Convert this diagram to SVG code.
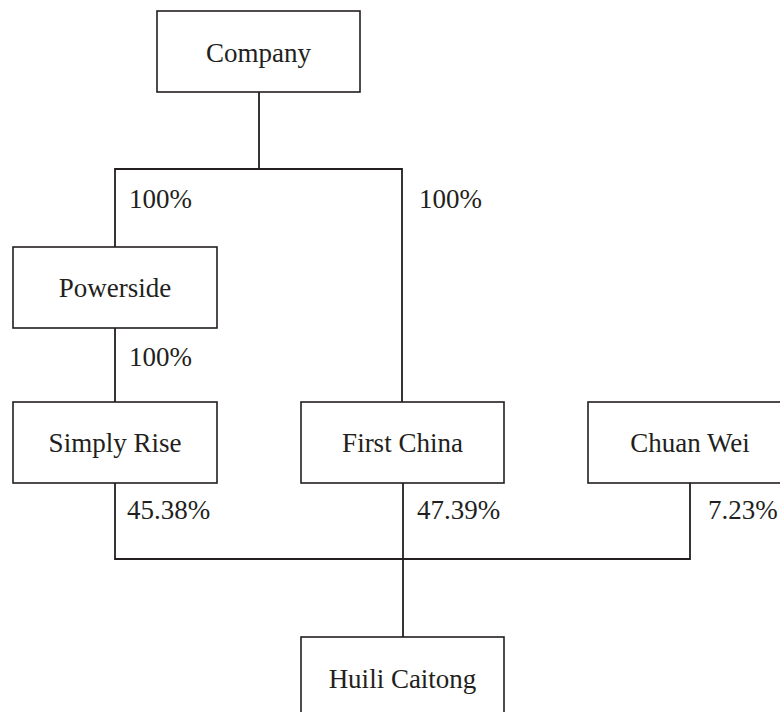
<svg xmlns="http://www.w3.org/2000/svg" width="780" height="712" viewBox="0 0 780 712">
<style>
.box{fill:#fff;stroke:#231f20;stroke-width:1.6}
.ln{fill:none;stroke:#231f20;stroke-width:1.8}
text{font-family:"Liberation Serif","Times New Roman",serif;font-size:27px;fill:#231f20}
.c{text-anchor:middle}
</style>
<rect width="780" height="712" fill="#fff"/>
<g id="connectors">
<path class="ln" d="M259 92V169M115 247V169H402V402M115 328V402M115 483V559H690V483M403 483V637"/>
</g>
<g id="labels">
<text x="129" y="208">100%</text>
<text x="419" y="208">100%</text>
<text x="129" y="366">100%</text>
<text x="127" y="519">45.38%</text>
<text x="417" y="519">47.39%</text>
<text x="708" y="519">7.23%</text>
</g>
<g id="company"><rect class="box" x="157" y="11" width="203" height="81"/><text class="c" x="258.5" y="62">Company</text></g>
<g id="powerside"><rect class="box" x="13" y="247" width="204" height="81"/><text class="c" x="115" y="297">Powerside</text></g>
<g id="simply-rise"><rect class="box" x="13" y="402" width="204" height="81"/><text class="c" x="115" y="452">Simply Rise</text></g>
<g id="first-china"><rect class="box" x="301" y="402" width="203" height="81"/><text class="c" x="402.5" y="452">First China</text></g>
<g id="chuan-wei"><rect class="box" x="588" y="402" width="204" height="81"/><text class="c" x="690" y="452">Chuan Wei</text></g>
<g id="huili-caitong"><rect class="box" x="301" y="637" width="203" height="81"/><text class="c" x="402.5" y="688">Huili Caitong</text></g>
</svg>
